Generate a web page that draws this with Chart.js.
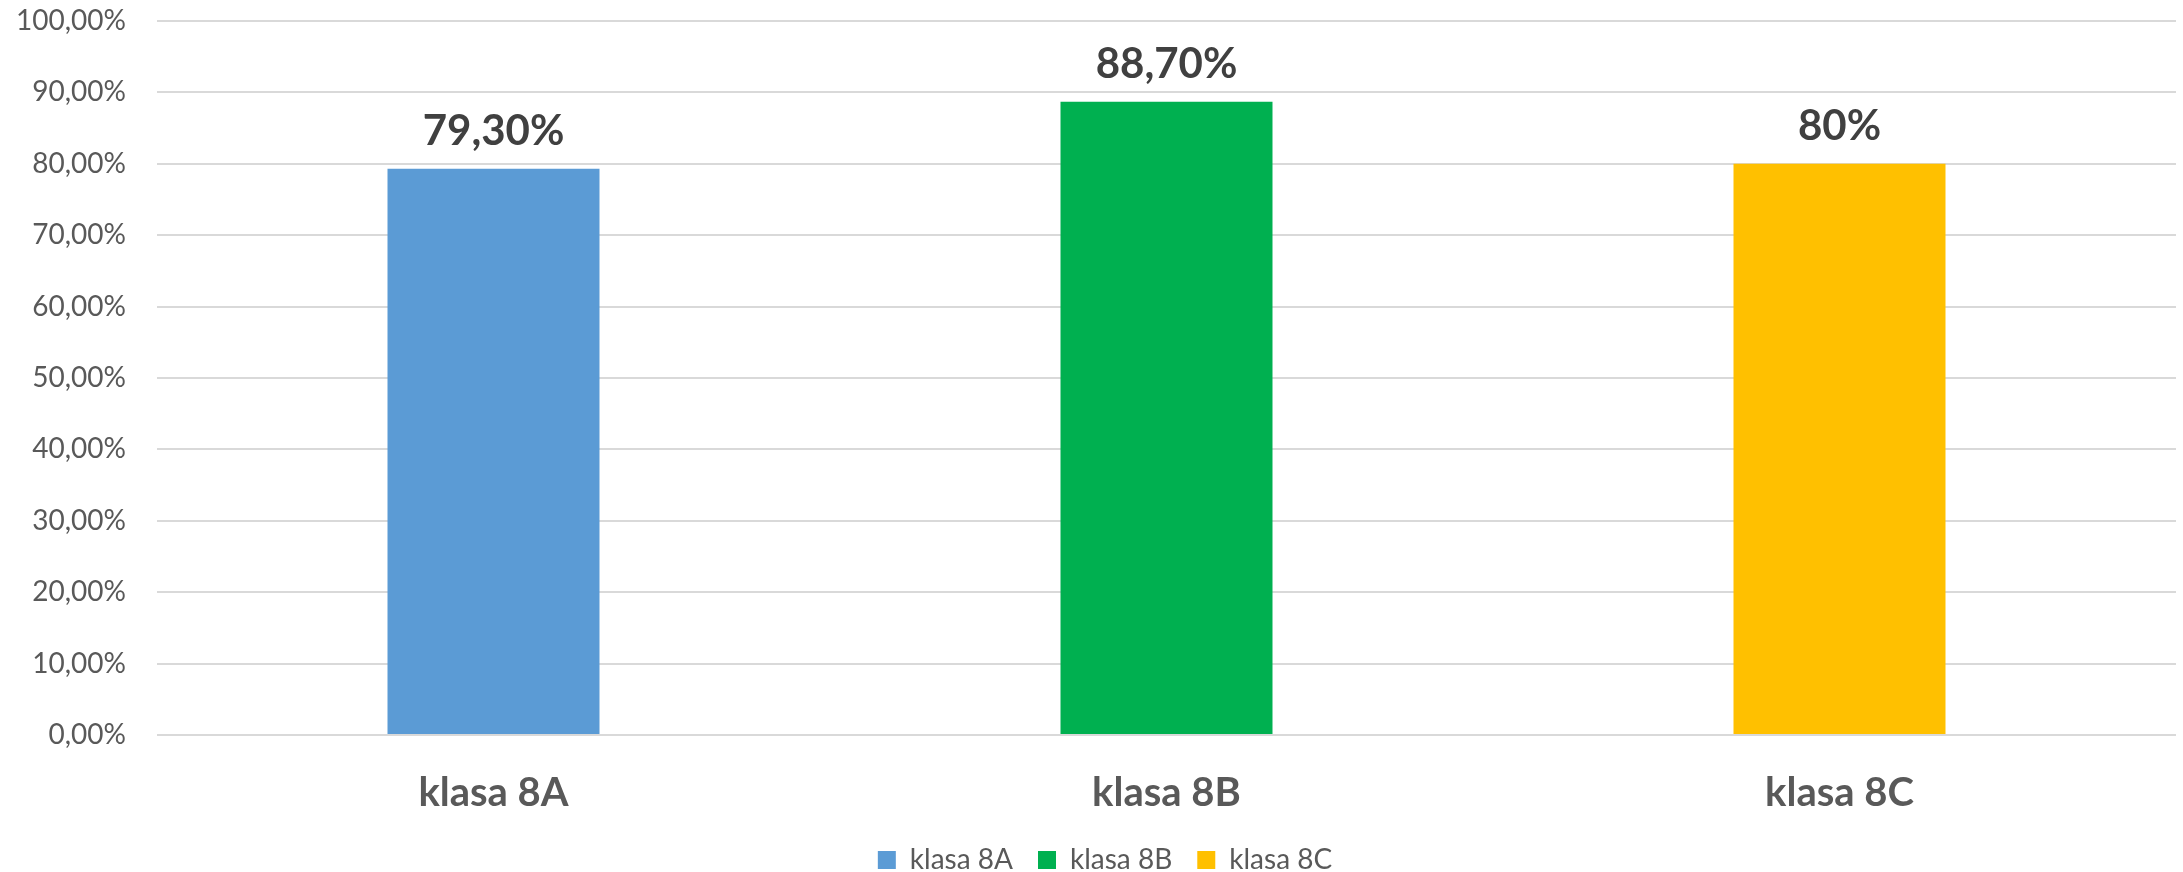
<!DOCTYPE html>
<html>
<head>
    <meta charset="UTF-8">
    <title>klasa 8A / 8B / 8C</title>
    <script src="https://cdn.jsdelivr.net/npm/chart.js@4.4.1/dist/chart.umd.min.js"></script>
    <style type="text/css">
        html, body { margin: 0; padding: 0; background: #fff; overflow: hidden; }
        #wrap { width: 2183px; height: 872px; overflow: hidden; }
    </style>
</head>
<body>

<div id="wrap">
    <!-- canvas a bit taller than the view so the legend sits low like in Excel -->
    <canvas id="wynikiChart" width="2183" height="884"></canvas>
</div>

<script>
    const categories = ['klasa 8A', 'klasa 8B', 'klasa 8C'];
    const values = [79.3, 88.7, 80];
    const valueLabels = ['79,30%', '88,70%', '80%'];
    const colors = ['#5B9BD5', '#00B050', '#FFC000'];
    const yTicks = [0, 10, 20, 30, 40, 50, 60, 70, 80, 90, 100];

    const FONT = 'Lato, "Open Sans", sans-serif';

    // one dataset per class so the legend shows three entries
    const datasets = categories.map((name, i) => ({
        label: name,
        data: categories.map((c, j) => (j === i ? values[i] : null)),
        backgroundColor: colors[i],
        borderWidth: 0,
        skipNull: true
    }));

    // value labels above the bars
    const valueLabelPlugin = {
        id: 'valueLabels',
        afterDatasetsDraw(chart) {
            const ctx = chart.ctx;
            ctx.save();
            ctx.font = 'bold 42px ' + FONT;
            ctx.fillStyle = '#404040';
            ctx.textAlign = 'center';
            ctx.textBaseline = 'alphabetic';
            chart.data.datasets.forEach((ds, i) => {
                const meta = chart.getDatasetMeta(i);
                const bar = meta.data[i];
                if (!bar) return;
                ctx.fillText(valueLabels[i], bar.x, bar.y - 24);
            });
            ctx.restore();
        }
    };

    // Excel centres the legend a little right of the canvas middle
    const legendShift = {
        id: 'legendShift',
        afterLayout(chart) {
            if (chart.legend) chart.legend.left += 34;
        }
    };

    new Chart(document.getElementById('wynikiChart').getContext('2d'), {
        type: 'bar',
        data: { labels: categories, datasets: datasets },
        plugins: [valueLabelPlugin, legendShift],
        options: {
            responsive: false,
            animation: false,
            layout: { padding: { top: 21, right: 7, left: 0, bottom: 0 } },
            datasets: {
                bar: { categoryPercentage: 1, barPercentage: 0.315, grouped: false }
            },
            plugins: {
                legend: {
                    display: true,
                    position: 'bottom',
                    labels: {
                        boxWidth: 18,
                        boxHeight: 18,
                        padding: 25,
                        color: '#595959',
                        font: { family: FONT, size: 28 }
                    }
                },
                tooltip: { enabled: false }
            },
            scales: {
                x: {
                    grid: { display: false },
                    border: { display: false },
                    ticks: {
                        color: '#595959',
                        padding: 26,
                        font: { family: FONT, size: 40, weight: 'bold' }
                    },
                    afterFit(scale) { scale.height = 86; }
                },
                y: {
                    min: 0,
                    max: 100,
                    afterBuildTicks(scale) { scale.ticks = yTicks.map(v => ({ value: v })); },
                    grid: { color: '#d9d9d9', lineWidth: 2, drawTicks: false },
                    border: { display: false },
                    ticks: {
                        color: '#595959',
                        padding: 31,
                        font: { family: FONT, size: 28 },
                        callback: v => v.toFixed(2).replace('.', ',') + '%'
                    },
                    afterFit(scale) {
                        scale.width = 157;
                        scale.paddingTop = 0;
                        scale.paddingBottom = 0;
                    }
                }
            }
        }
    });
</script>

</body>
</html>
